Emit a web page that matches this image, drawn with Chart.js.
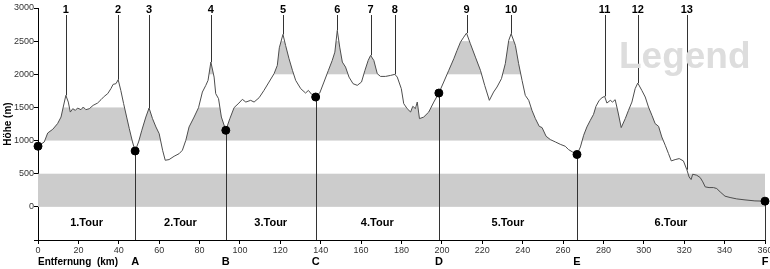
<!DOCTYPE html>
<html>
<head>
<meta charset="utf-8">
<script src="https://cdn.jsdelivr.net/npm/chart.js@4.4.1/dist/chart.umd.min.js"></script>
<style>
  body { margin: 0; background: #fff; }
  canvas { display: block; }
</style>
</head>
<body>
<canvas id="profil" width="770" height="269"></canvas>
<script>
// Höhenprofil (km / m)
const distKm = [0, 3.1, 4.8, 7.3, 9.7, 11.4, 12.5, 13.8, 15.0, 16.0, 17.2, 18.5, 19.6, 21.3, 22.4, 23.7, 25.4, 27.3, 29.5, 31.2,
  32.8, 34.5, 36.1, 37.2, 38.6, 39.7, 41.0, 42.4, 43.9, 45.2, 46.8, 48.1, 49.8, 51.4, 53.4, 55.0, 56.7, 58.4, 60.0, 61.7,
  63.0, 64.9, 67.4, 69.9, 71.5, 73.2, 74.8, 77.3, 79.5, 81.4, 83.1, 84.2, 85.6, 87.2, 88.0, 89.4, 90.8, 93.0, 95.0, 97.1,
  99.5, 101.2, 102.9, 105.3, 107.0, 109.5, 111.9, 114.4, 116.9, 118.5, 119.5, 121.3, 122.6, 124.3, 126.0, 127.6, 130.1, 132.5, 133.9, 135.5,
  137.5, 139.5, 141.6, 143.8, 145.7, 147.0, 148.2, 149.4, 150.7, 152.3, 154.0, 156.0, 158.1, 160.2, 161.9, 163.5, 164.7, 166.3, 168.0, 169.6,
  172.1, 174.6, 176.7, 177.9, 179.9, 181.1, 182.8, 184.5, 185.6, 186.9, 187.8, 188.9, 191.0, 193.5, 196.0, 198.5, 200.9, 203.4, 205.9, 207.5,
  209.2, 210.8, 212.2, 214.1, 216.6, 219.1, 221.2, 223.5, 225.6, 227.3, 229.5, 231.4, 233.1, 234.3, 236.4, 238.0, 239.7, 241.3, 243.0, 244.6,
  246.3, 248.2, 249.6, 251.6, 253.7, 256.2, 258.6, 261.1, 262.7, 264.7, 266.9, 268.6, 270.2, 271.8, 273.5, 275.1, 276.3, 277.9, 279.3, 280.6,
  281.7, 283.4, 284.5, 285.8, 287.2, 288.8, 290.8, 292.4, 294.1, 295.7, 297.0, 299.0, 300.7, 302.3, 304.0, 305.6, 307.3, 308.9, 310.6, 312.2,
  313.6, 315.5, 317.5, 319.6, 321.3, 322.4, 323.4, 324.2, 326.2, 327.9, 329.2, 330.4, 332.3, 334.5, 336.1, 337.8, 340.2, 342.7, 346.0, 350.1,
  355.0, 360];
const elevM = [915, 979, 1114, 1170, 1256, 1355, 1506, 1682, 1581, 1430, 1481, 1456, 1491, 1466, 1506, 1466, 1481, 1531, 1566, 1617,
  1667, 1707, 1783, 1848, 1858, 1918, 1757, 1557, 1355, 1181, 979, 843, 979, 1155, 1355, 1491, 1331, 1205, 1105, 854,
  703, 713, 763, 803, 854, 1004, 1205, 1355, 1497, 1732, 1833, 1908, 2184, 1958, 1708, 1632, 1355, 1155, 1331, 1497,
  1566, 1622, 1581, 1607, 1581, 1647, 1757, 1883, 2009, 2134, 2400, 2601, 2436, 2235, 2059, 1908, 1783, 1717, 1757, 1697,
  1657, 1717, 1883, 2059, 2209, 2334, 2661, 2410, 2184, 2109, 1958, 1858, 1833, 1883, 2059, 2209, 2285, 2209, 2009, 1968,
  1968, 1983, 1999, 1958, 1783, 1557, 1482, 1431, 1517, 1482, 1581, 1331, 1355, 1431, 1581, 1717, 1883, 2059, 2235, 2360,
  2485, 2560, 2621, 2461, 2259, 2059, 1833, 1607, 1732, 1808, 1934, 2160, 2511, 2611, 2436, 2160, 1908, 1682, 1607, 1456,
  1331, 1215, 1196, 1065, 1015, 979, 944, 914, 864, 828, 790, 904, 1080, 1205, 1306, 1396, 1517, 1607, 1647, 1667,
  1566, 1607, 1581, 1617, 1431, 1196, 1331, 1456, 1581, 1783, 1868, 1757, 1657, 1506, 1381, 1256, 1215, 1054, 929, 804,
  693, 713, 728, 693, 560, 452, 412, 492, 477, 442, 377, 301, 291, 291, 276, 226, 161, 141, 120, 105,
  90, 86];

// Gipfel
const peakLabels = ['1', '2', '3', '4', '5', '6', '7', '8', '9', '10', '11', '12', '13'];
const peakKm = [13.8, 39.7, 55.0, 85.6, 121.3, 148.2, 164.7, 176.7, 212.2, 234.3, 280.6, 297.0, 321.3];
const peakElev = [1682, 1918, 1491, 2184, 2601, 2661, 2285, 1999, 2621, 2611, 1667, 1868, 560];

// Etappenpunkte
const stageLabels = ['', 'A', 'B', 'C', 'D', 'E', 'F'];
const stageKm = [0, 48.1, 93.0, 137.5, 198.5, 266.9, 360];
const stageElev = [915, 843, 1155, 1657, 1717, 790, 86];
const tourLabels = ['1.Tour', '2.Tour', '3.Tour', '4.Tour', '5.Tour', '6.Tour'];
const tourLabelElev = -250;

// Höhenbänder
const bandsFull = [[0, 500]];
const bandsUnderProfile = [[1000, 1500], [2000, 2500]];

const xMin = 0, xMax = 360, xStep = 20;
const yMin = -500, yMax = 3000, yStep = 500;

const profilePoints = distKm.map((d, i) => ({ x: d, y: elevM[i] }));
const stagePoints = stageKm.map((d, i) => ({ x: d, y: stageElev[i] }));

const grey = '#cccccc';
const lineColor = '#333333';

const profilePlugin = {
  id: 'profilePlugin',
  beforeDatasetsDraw(chart) {
    const { ctx, scales: { x, y } } = chart;
    const pts = chart.getDatasetMeta(1).data;
    ctx.save();
    ctx.fillStyle = grey;
    bandsFull.forEach(([a, b]) => {
      const top = y.getPixelForValue(b), bot = y.getPixelForValue(a);
      ctx.fillRect(x.left, top, x.right - x.left, bot - top);
    });
    // bänder nur unter der kurve
    ctx.save();
    ctx.beginPath();
    ctx.moveTo(pts[0].x, y.bottom);
    pts.forEach(p => ctx.lineTo(p.x, p.y));
    ctx.lineTo(pts[pts.length - 1].x, y.bottom);
    ctx.closePath();
    ctx.clip();
    bandsUnderProfile.forEach(([a, b]) => {
      const top = y.getPixelForValue(b), bot = y.getPixelForValue(a);
      ctx.fillRect(x.left, top, x.right - x.left, bot - top);
    });
    ctx.restore();

    ctx.strokeStyle = lineColor;
    ctx.lineWidth = 1;
    ctx.beginPath();
    peakKm.forEach((km, i) => {
      const px = Math.round(x.getPixelForValue(km)) + 0.5;
      ctx.moveTo(px, 15);
      ctx.lineTo(px, y.getPixelForValue(peakElev[i]));
    });
    stageKm.forEach((km, i) => {
      if (!stageLabels[i]) return;
      const px = Math.round(x.getPixelForValue(km)) + 0.5;
      ctx.moveTo(px, y.getPixelForValue(stageElev[i]));
      ctx.lineTo(px, y.bottom);
    });
    ctx.stroke();
    ctx.restore();
  },
  afterDraw(chart) {
    const { ctx, scales: { x, y } } = chart;
    ctx.save();
    // wasserzeichen
    ctx.fillStyle = '#dddddd';
    ctx.font = 'bold 37px "Liberation Sans", Arial, sans-serif';
    ctx.textAlign = 'left';
    ctx.textBaseline = 'alphabetic';
    ctx.fillText('Legend', 619, 68);

    ctx.fillStyle = '#000';
    ctx.textAlign = 'center';
    ctx.textBaseline = 'middle';
    ctx.font = 'bold 11px "Liberation Sans", Arial, sans-serif';
    peakLabels.forEach((t, i) => ctx.fillText(t, x.getPixelForValue(peakKm[i]), 10));
    const ty = y.getPixelForValue(tourLabelElev);
    tourLabels.forEach((t, i) => {
      const mid = (stageKm[i] + stageKm[i + 1]) / 2;
      ctx.fillText(t, x.getPixelForValue(mid), ty);
    });
    stageLabels.forEach((t, i) => {
      if (t) ctx.fillText(t, x.getPixelForValue(stageKm[i]), 262);
    });
    ctx.textAlign = 'left';
    ctx.font = 'bold 10px "Liberation Sans", Arial, sans-serif';
    ctx.fillText('Entfernung  (km)', 38, 262);
    ctx.restore();
  }
};

new Chart(document.getElementById('profil'), {
  type: 'line',
  data: {
    datasets: [
      {
        data: stagePoints,
        showLine: false,
        pointRadius: 4,
        pointBackgroundColor: '#000',
        pointBorderColor: '#000',
        clip: false,
        order: 0
      },
      {
        data: profilePoints,
        borderColor: '#4d4d4d',
        borderWidth: 1,
        pointRadius: 0,
        tension: 0,
        fill: false,
        order: 1
      }
    ]
  },
  options: {
    responsive: false,
    animation: false,
    layout: { padding: { top: 8, right: 4, left: 0, bottom: 0 } },
    plugins: { legend: { display: false }, tooltip: { enabled: false } },
    scales: {
      x: {
        type: 'linear',
        min: xMin, max: xMax,
        afterFit(s) { s.height = 29; s.paddingRight = 0; s.paddingLeft = 0; },
        border: { display: true, color: '#000' },
        grid: { drawOnChartArea: false, drawTicks: true, tickLength: 4, color: '#000' },
        ticks: {
          stepSize: xStep, autoSkip: false, maxRotation: 0, padding: 1,
          color: '#333', font: { size: 9, family: '"Liberation Sans", Arial, sans-serif' }
        }
      },
      y: {
        min: yMin, max: yMax,
        afterFit(s) { s.width = 38; },
        border: { display: true, color: '#000' },
        grid: { drawOnChartArea: false, drawTicks: true, tickLength: 4, color: '#000' },
        title: {
          display: true, text: 'Höhe (m)', color: '#000', padding: { top: 2, bottom: 0 },
          font: { size: 10, weight: 'bold', family: '"Liberation Sans", Arial, sans-serif' }
        },
        ticks: {
          stepSize: yStep, padding: 0,
          color: '#333', font: { size: 9, family: '"Liberation Sans", Arial, sans-serif' },
          callback: v => (v < 0 ? '' : v)
        }
      }
    }
  },
  plugins: [profilePlugin]
});
</script>
</body>
</html>
